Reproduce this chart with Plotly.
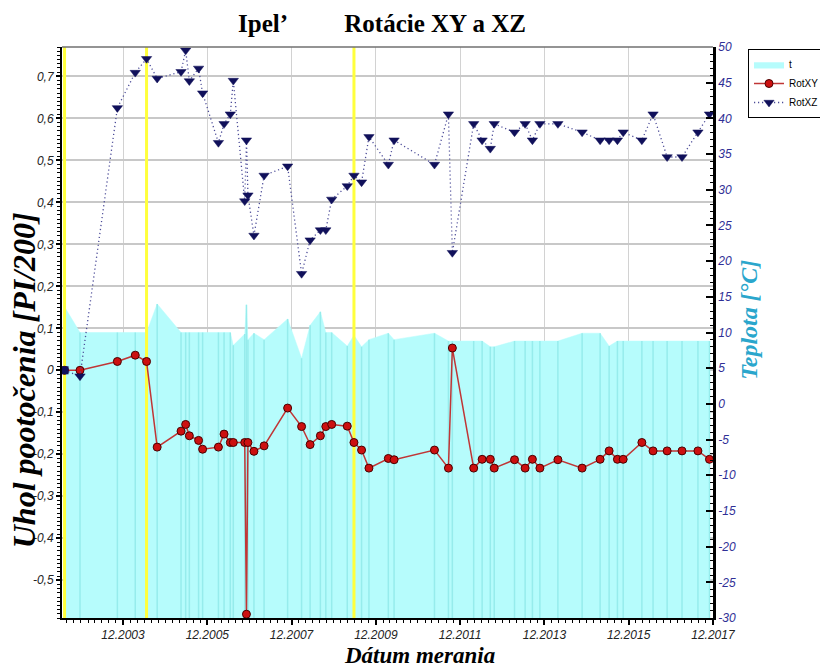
import plotly.graph_objects as go

# ---------------- data ----------------
dates = [
    "2002-07-12", "2002-11-23", "2003-10-13", "2004-03-16", "2004-06-22", "2004-09-22",
    "2005-04-17", "2005-05-27", "2005-06-28", "2005-09-16", "2005-10-21",
    "2006-03-07", "2006-04-25", "2006-06-18", "2006-07-14", "2006-10-21", "2006-11-05", "2006-11-18",
    "2007-01-09", "2007-04-07", "2007-10-28",
    "2008-02-26", "2008-05-10", "2008-08-07", "2008-09-23", "2008-11-13",
    "2009-03-28", "2009-05-25", "2009-07-30", "2009-10-02",
    "2010-03-19", "2010-05-08",
    "2011-04-23", "2011-08-22", "2011-09-25",
    "2012-03-28", "2012-06-09", "2012-08-19", "2012-09-22",
    "2013-03-17", "2013-06-17", "2013-08-19", "2013-10-23",
    "2014-03-28", "2014-10-24",
    "2015-03-29", "2015-06-15", "2015-08-26", "2015-10-15",
    "2016-03-25", "2016-06-30", "2016-10-30",
    "2017-03-08", "2017-07-24", "2017-11-01",
]

rot_xy = [
    0.000, 0.000, 0.021, 0.036, 0.021, -0.183,
    -0.145, -0.129, -0.156, -0.167, -0.188,
    -0.183, -0.152, -0.172, -0.172, -0.172, -0.581, -0.172,
    -0.193, -0.180, -0.090,
    -0.134, -0.177, -0.156, -0.134, -0.129,
    -0.133, -0.172, -0.190, -0.233,
    -0.210, -0.213,
    -0.190, -0.233, 0.053,
    -0.233, -0.212, -0.212, -0.233,
    -0.213, -0.233, -0.212, -0.233,
    -0.213, -0.233,
    -0.212, -0.192, -0.212, -0.212,
    -0.172, -0.192, -0.192,
    -0.192, -0.192, -0.212,
]

rot_xz = [
    0.000, -0.014, 0.625, 0.709, 0.742, 0.695,
    0.711, 0.762, 0.689, 0.719, 0.660,
    0.542, 0.587, 0.610, 0.690, 0.403, 0.548, 0.417,
    0.321, 0.464, 0.486,
    0.230, 0.310, 0.334, 0.334, 0.407,
    0.439, 0.464, 0.448, 0.556,
    0.490, 0.548,
    0.490, 0.610, 0.280,
    0.587, 0.548, 0.528, 0.587,
    0.567, 0.587, 0.548, 0.587,
    0.587, 0.567,
    0.548, 0.548, 0.548, 0.567,
    0.548, 0.610, 0.508,
    0.508, 0.567, 0.610,
]

temp = [
    13.6, 10.0, 10.0, 10.0, 10.0, 14.0,
    10.0, 10.0, 10.0, 10.0, 10.0,
    10.0, 10.0, 10.0, 8.2, 9.8, 13.9, 9.0,
    9.9, 9.0, 11.9,
    6.4, 11.0, 12.9, 10.0, 10.0,
    8.1, 9.6, 8.0, 9.0,
    9.9, 9.0,
    9.9, 8.8, 8.8,
    8.8, 8.8, 8.0, 8.0,
    8.8, 8.8, 8.8, 8.8,
    8.8, 9.9,
    9.9, 8.1, 8.8, 8.8,
    8.8, 8.8, 8.8,
    8.8, 8.8, 8.8,
]

# marked measurement dates (yellow lines)
marked_dates = ["2002-07-12", "2004-06-22", "2009-05-25"]

# axes
x_range = ["2002-06-20", "2017-12-01"]
angle_range = [-0.59, 0.77]
angle_ticks = [-0.5, -0.4, -0.3, -0.2, -0.1, 0, 0.1, 0.2, 0.3, 0.4, 0.5, 0.6, 0.7]
angle_labels = ["-0,5", "-0,4", "-0,3", "-0,2", "-0,1", "0", "0,1", "0,2", "0,3", "0,4", "0,5", "0,6", "0,7"]
temp_range = [-30, 50]
temp_ticks = [-30, -25, -20, -15, -10, -5, 0, 5, 10, 15, 20, 25, 30, 35, 40, 45, 50]
temp_labels = [str(v) for v in temp_ticks]

W, H = 820, 668

# ---------------- figure ----------------
fig = go.Figure()

# baseline for the temperature area (bottom of the temperature axis)
fig.add_trace(go.Scatter(
    x=dates, y=[temp_range[0]] * len(dates), yaxis="y", mode="lines",
    line=dict(width=0, color="rgba(0,0,0,0)"), showlegend=False, hoverinfo="skip"))

fig.add_trace(go.Scatter(
    x=dates, y=temp, yaxis="y", name="t", mode="lines",
    fill="tonexty", fillcolor="#b6fcfc", line=dict(width=0.5, color="#b6fcfc")))

# drop lines at each measurement
vx, vy = [], []
for d, t in zip(dates, temp):
    vx += [d, d, None]
    vy += [temp_range[0], t, None]
fig.add_trace(go.Scatter(
    x=vx, y=vy, yaxis="y", mode="lines", line=dict(width=1.5, color="#96ecec"),
    showlegend=False, hoverinfo="skip"))

# yellow marker lines
yx, yy = [], []
for d in marked_dates:
    yx += [d, d, None]
    yy += [temp_range[0], temp_range[1], None]
fig.add_trace(go.Scatter(
    x=yx, y=yy, yaxis="y", mode="lines", line=dict(width=3, color="#ffff3c"),
    showlegend=False, hoverinfo="skip"))

fig.add_trace(go.Scatter(
    x=dates, y=rot_xy, yaxis="y2", name="RotXY", mode="lines+markers",
    line=dict(color="#c03636", width=1.5),
    marker=dict(symbol="circle", size=8, color="#cc1010", line=dict(color="#4a0000", width=1))))

xz_sizes = [0] + [9] * (len(dates) - 1)
fig.add_trace(go.Scatter(
    x=dates, y=rot_xz, yaxis="y2", name="RotXZ", mode="lines+markers",
    line=dict(color="#4c4c98", width=1.3, dash="1.2px,2.8px"),
    marker=dict(symbol="triangle-down", size=xz_sizes, opacity=1, color="#10105a",
                line=dict(color="#10105a", width=0.5))))

# first measurement drawn as a square marker
fig.add_trace(go.Scatter(
    x=dates[:1], y=rot_xz[:1], yaxis="y2", mode="markers", showlegend=False,
    marker=dict(symbol="square", size=8, color="#10105a"), hoverinfo="skip"))

tick_font = dict(family="Liberation Sans, Arial, sans-serif", size=12, style="italic")


def title_font(size, color):
    return dict(family="Liberation Serif, Times New Roman, serif", size=size,
                weight="bold", style="italic", color=color)


fig.update_layout(
    width=W, height=H,
    margin=dict(l=62, r=W - 717, t=47, b=H - 618),
    paper_bgcolor="white", plot_bgcolor="white",
    title=dict(
        text="Ipel’" + "\u00a0" * 9 + "Rotácie XY a XZ",
        x=382 / W, xanchor="center", xref="container",
        y=1 - 23 / H, yanchor="middle", yref="container",
        font=dict(family="Liberation Serif, Times New Roman, serif", size=25, weight="bold", color="black")),
    xaxis=dict(
        type="date", range=x_range, tick0="2003-12-01", dtick="M24", tickformat="%m.%Y",
        ticks="outside", ticklen=5, tickwidth=1.5, tickcolor="black",
        showline=True, linecolor="black", linewidth=2,
        showgrid=True, gridcolor="#d2d2d2", gridwidth=1, zeroline=False,
        tickfont=dict(color="#222", **tick_font),
        minor=dict(ticks="outside", ticklen=3, tickwidth=1, tickcolor="black",
                   dtick="M2", tick0="2003-12-01", showgrid=False)),
    yaxis=dict(
        side="right", range=temp_range, tickvals=temp_ticks, ticktext=temp_labels,
        ticks="inside", ticklen=7, tickwidth=1.5, tickcolor="black",
        showline=True, linecolor="black", linewidth=3,
        showgrid=False, zeroline=False,
        tickfont=dict(color="#2f2f96", **tick_font),
        minor=dict(ticks="inside", ticklen=3, tickwidth=1, tickcolor="black", dtick=1, showgrid=False)),
    yaxis2=dict(
        overlaying="y", side="left", range=angle_range, tickvals=angle_ticks, ticktext=angle_labels,
        ticks="outside", ticklen=4, tickwidth=1.5, tickcolor="black",
        showline=True, linecolor="black", linewidth=2,
        showgrid=True, gridcolor="#c8c8c8", gridwidth=1.5, zeroline=False,
        tickfont=dict(color="#222", **tick_font),
        minor=dict(ticks="outside", ticklen=3, tickwidth=1, tickcolor="black", dtick=0.01, showgrid=False)),
    legend=dict(
        xref="container", yref="container", x=748 / W, xanchor="left",
        y=1 - 49 / H, yanchor="top", traceorder="normal",
        bgcolor="white", bordercolor="black", borderwidth=1,
        font=dict(family="Liberation Sans, Arial, sans-serif", size=10, color="black"),
        tracegroupgap=0, itemwidth=30),
    showlegend=True,
    shapes=[dict(type="line", xref="paper", yref="paper", x0=0, x1=1, y0=1, y1=1,
                 line=dict(color="#707070", width=1.5))],
    annotations=[
        dict(text="Dátum merania", xref="paper", yref="paper", x=(422 - 62) / 655, y=(618 - 655) / 571,
             xanchor="center", yanchor="middle", showarrow=False, font=title_font(23, "black")),
        dict(text="Uhol pootočenia [PI/200]", xref="paper", yref="paper", x=(24 - 62) / 655,
             y=(618 - 380) / 571, textangle=-90, xanchor="center", yanchor="middle", showarrow=False,
             font=title_font(32, "black")),
        dict(text="Teplota [°C]", xref="paper", yref="paper", x=(753 - 62) / 655, y=(618 - 320) / 571,
             textangle=-90, xanchor="center", yanchor="middle", showarrow=False,
             font=title_font(24, "#2aa6cc")),
    ],
)

# remove the default 8px page margin so the figure fills the 820x668 window exactly
fig.write_html("out.html", config={"displayModeBar": False},
               post_script="document.body.style.margin='0';")
